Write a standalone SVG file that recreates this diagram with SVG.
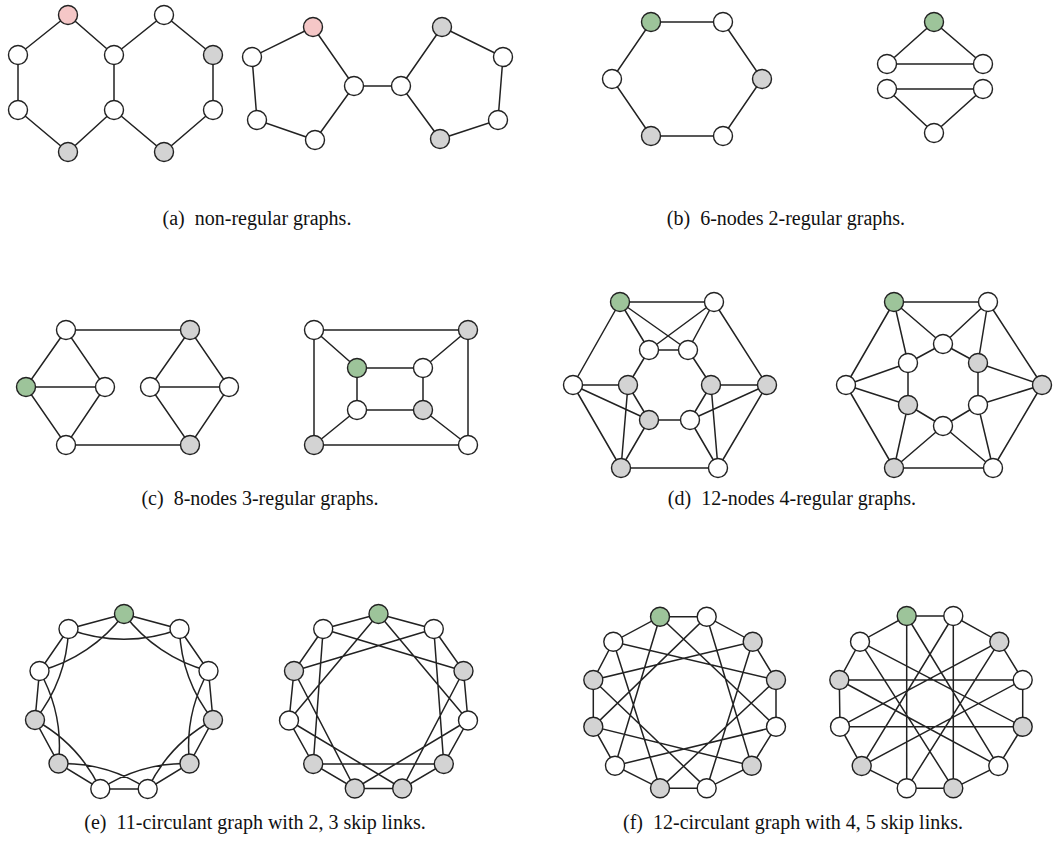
<svg xmlns="http://www.w3.org/2000/svg" width="1054" height="860" viewBox="0 0 1054 860">
<style>
.e{stroke:#222;stroke-width:1.5;fill:none}
circle{stroke:#222;stroke-width:1.4}
.w{fill:#fff}.g{fill:#d3d3d3}.gr{fill:#9dc49a}.p{fill:#f5c7c7}
text{font-family:"Liberation Serif","Times New Roman",serif;font-size:20px;fill:#111;text-anchor:middle}
</style>
<rect width="1054" height="860" fill="#fff"/>
<g id="connectors" class="e">
<!-- a1 -->
<path d="M68,15L18,55L18,110L68,152L114,110L114,55Z M114,55L164,15L213,55L213,110L164,152L114,110"/>
<!-- a2 -->
<path d="M313,27L252,57L257,120L315,140L354,86Z M354,86L401,86 M401,86L442,27L503,57L498,120L440,139Z"/>
<!-- b1 -->
<path d="M651,22L723,22L762,79L723,136L651,136L612,79Z"/>
<!-- b2 -->
<path d="M887,64L934,22L983,64Z M887,89L983,89L934,133Z"/>
<!-- c1 -->
<path d="M66,330L190,330 M66,330L26,387L66,445L105,387Z M26,387L105,387 M66,445L190,445 M190,330L150,387L190,445L229,387Z M150,387L229,387"/>
<!-- c2 -->
<path d="M314,330L468,330L468,445L314,445Z M314,330L357,368 M468,330L423,368 M314,445L357,410 M468,445L423,410 M357,368L423,368L423,410L357,410Z"/>
<!-- d1 -->
<path d="M620,302L714,302 M620,302L573,385 M620,302L649,350 M620,302L688,350 M714,302L649,350 M714,302L688,350 M714,302L767,385 M649,350L688,350 M649,350L628,385 M688,350L711,385 M573,385L628,385 M573,385L649,420 M573,385L621,468 M628,385L649,420 M628,385L621,468 M649,420L621,468 M649,420L690,420 M690,420L711,385 M690,420L767,385 M690,420L718,468 M711,385L718,468 M711,385L767,385 M767,385L718,468 M621,468L718,468"/>
<!-- d2 -->
<path d="M894,302L988,302 M894,302L846,385 M894,302L908,363 M894,302L943,344 M988,302L943,344 M988,302L978,363 M988,302L1042,385 M943,344L908,363 M943,344L978,363 M846,385L908,363 M846,385L908,405 M846,385L894,468 M908,363L908,405 M978,363L978,405 M978,363L1042,385 M978,405L1042,385 M908,405L943,426 M908,405L894,468 M943,426L978,405 M943,426L894,468 M943,426L993,468 M978,405L993,468 M1042,385L993,468 M894,468L993,468"/>
<!-- e1 ring -->
<path d="M124,614L179.5,629L208.5,671L213,720L189.5,763.5L147.7,789L100.3,789L58.5,763.5L35,720L39.5,671L68.5,629Z"/>
<!-- e1 skip 2 -->
<path d="M124,614A155,155 0 0 0 208.5,671 M179.5,629A155,155 0 0 0 213,720 M208.5,671A155,155 0 0 0 189.5,763.5 M213,720A155,155 0 0 0 147.7,789 M189.5,763.5A155,155 0 0 0 100.3,789 M147.7,789A155,155 0 0 0 58.5,763.5 M100.3,789A155,155 0 0 0 35,720 M58.5,763.5A155,155 0 0 0 39.5,671 M35,720A155,155 0 0 0 68.5,629 M39.5,671A155,155 0 0 0 124,614 M68.5,629A155,155 0 0 0 179.5,629"/>
<!-- e2 ring -->
<path d="M378.5,614L433.8,629L463.5,671L468,720.5L443.8,764L402.2,788.5L354.8,788.5L313.2,764L289,720.5L294,671L323.2,629Z"/>
<!-- e2 skip 3 -->
<path d="M378.5,614L468,720.5 M433.8,629L443.8,764 M463.5,671L402.2,788.5 M468,720.5L354.8,788.5 M443.8,764L313.2,764 M402.2,788.5L289,720.5 M354.8,788.5L294,671 M313.2,764L323.2,629 M289,720.5L378.5,614 M294,671L433.8,629 M323.2,629L463.5,671"/>
<!-- f1 ring -->
<path d="M660,616.7L706.7,616.7L752.7,641.7L776,680L776,726.7L751.7,765.7L706.7,788.3L660,788.3L615,765.7L593.3,726.7L593.3,680L613.3,641.7Z"/>
<!-- f1 skip 4 -->
<path d="M660,616.7L776,726.7L615,765.7Z M706.7,616.7L751.7,765.7L593.3,726.7Z M752.7,641.7L706.7,788.3L593.3,680Z M776,680L660,788.3L613.3,641.7Z"/>
<!-- f2 ring -->
<path d="M906.7,616L953.3,616L999.3,641.7L1022.7,680L1022.7,726.7L998.3,766L953.3,788.3L906.7,788.3L861.7,766L840,726.7L839.3,680L860,641.7Z"/>
<!-- f2 skip 5 -->
<path d="M906.7,616L998.3,766 M953.3,616L953.3,788.3 M999.3,641.7L906.7,788.3 M1022.7,680L861.7,766 M1022.7,726.7L840,726.7 M998.3,766L839.3,680 M953.3,788.3L860,641.7 M906.7,788.3L906.7,616 M861.7,766L953.3,616 M840,726.7L999.3,641.7 M839.3,680L1022.7,680 M860,641.7L1022.7,726.7"/>
</g>
<!-- panel a -->
<g id="a1-n0"><circle cx="68" cy="15" r="9.5" class="p"/></g>
<g id="a1-n1"><circle cx="18" cy="55" r="9.5" class="w"/></g>
<g id="a1-n2"><circle cx="18" cy="110" r="9.5" class="w"/></g>
<g id="a1-n3"><circle cx="68" cy="152" r="9.5" class="g"/></g>
<g id="a1-n4"><circle cx="114" cy="55" r="9.5" class="w"/></g>
<g id="a1-n5"><circle cx="114" cy="110" r="9.5" class="w"/></g>
<g id="a1-n6"><circle cx="164" cy="15" r="9.5" class="w"/></g>
<g id="a1-n7"><circle cx="213" cy="55" r="9.5" class="g"/></g>
<g id="a1-n8"><circle cx="213" cy="110" r="9.5" class="w"/></g>
<g id="a1-n9"><circle cx="164" cy="152" r="9.5" class="g"/></g>
<g id="a2-n0"><circle cx="313" cy="27" r="9.5" class="p"/></g>
<g id="a2-n1"><circle cx="252" cy="57" r="9.5" class="w"/></g>
<g id="a2-n2"><circle cx="257" cy="120" r="9.5" class="w"/></g>
<g id="a2-n3"><circle cx="315" cy="140" r="9.5" class="w"/></g>
<g id="a2-n4"><circle cx="354" cy="86" r="9.5" class="w"/></g>
<g id="a2-n5"><circle cx="401" cy="86" r="9.5" class="w"/></g>
<g id="a2-n6"><circle cx="442" cy="27" r="9.5" class="g"/></g>
<g id="a2-n7"><circle cx="503" cy="57" r="9.5" class="w"/></g>
<g id="a2-n8"><circle cx="498" cy="120" r="9.5" class="w"/></g>
<g id="a2-n9"><circle cx="440" cy="139" r="9.5" class="g"/></g>
<!-- panel b -->
<g id="b1-n0"><circle cx="651" cy="22" r="9.5" class="gr"/></g>
<g id="b1-n1"><circle cx="723" cy="22" r="9.5" class="w"/></g>
<g id="b1-n2"><circle cx="762" cy="79" r="9.5" class="g"/></g>
<g id="b1-n3"><circle cx="723" cy="136" r="9.5" class="w"/></g>
<g id="b1-n4"><circle cx="651" cy="136" r="9.5" class="g"/></g>
<g id="b1-n5"><circle cx="612" cy="79" r="9.5" class="w"/></g>
<g id="b2-n0"><circle cx="934" cy="22" r="9.5" class="gr"/></g>
<g id="b2-n1"><circle cx="887" cy="64" r="9.5" class="w"/></g>
<g id="b2-n2"><circle cx="983" cy="64" r="9.5" class="w"/></g>
<g id="b2-n3"><circle cx="887" cy="89" r="9.5" class="w"/></g>
<g id="b2-n4"><circle cx="983" cy="89" r="9.5" class="w"/></g>
<g id="b2-n5"><circle cx="934" cy="133" r="9.5" class="w"/></g>
<!-- panel c -->
<g id="c1-n0"><circle cx="66" cy="330" r="9.5" class="w"/></g>
<g id="c1-n1"><circle cx="190" cy="330" r="9.5" class="g"/></g>
<g id="c1-n2"><circle cx="26" cy="387" r="9.5" class="gr"/></g>
<g id="c1-n3"><circle cx="105" cy="387" r="9.5" class="w"/></g>
<g id="c1-n4"><circle cx="150" cy="387" r="9.5" class="w"/></g>
<g id="c1-n5"><circle cx="229" cy="387" r="9.5" class="w"/></g>
<g id="c1-n6"><circle cx="66" cy="445" r="9.5" class="w"/></g>
<g id="c1-n7"><circle cx="190" cy="445" r="9.5" class="g"/></g>
<g id="c2-n0"><circle cx="314" cy="330" r="9.5" class="w"/></g>
<g id="c2-n1"><circle cx="468" cy="330" r="9.5" class="g"/></g>
<g id="c2-n2"><circle cx="357" cy="368" r="9.5" class="gr"/></g>
<g id="c2-n3"><circle cx="423" cy="368" r="9.5" class="w"/></g>
<g id="c2-n4"><circle cx="357" cy="410" r="9.5" class="w"/></g>
<g id="c2-n5"><circle cx="423" cy="410" r="9.5" class="g"/></g>
<g id="c2-n6"><circle cx="314" cy="445" r="9.5" class="g"/></g>
<g id="c2-n7"><circle cx="468" cy="445" r="9.5" class="w"/></g>
<!-- panel d -->
<g id="d1-n0"><circle cx="620" cy="302" r="9.5" class="gr"/></g>
<g id="d1-n1"><circle cx="714" cy="302" r="9.5" class="w"/></g>
<g id="d1-n2"><circle cx="649" cy="350" r="9.5" class="w"/></g>
<g id="d1-n3"><circle cx="688" cy="350" r="9.5" class="w"/></g>
<g id="d1-n4"><circle cx="573" cy="385" r="9.5" class="w"/></g>
<g id="d1-n5"><circle cx="628" cy="385" r="9.5" class="g"/></g>
<g id="d1-n6"><circle cx="711" cy="385" r="9.5" class="g"/></g>
<g id="d1-n7"><circle cx="767" cy="385" r="9.5" class="g"/></g>
<g id="d1-n8"><circle cx="649" cy="420" r="9.5" class="g"/></g>
<g id="d1-n9"><circle cx="690" cy="420" r="9.5" class="w"/></g>
<g id="d1-n10"><circle cx="621" cy="468" r="9.5" class="g"/></g>
<g id="d1-n11"><circle cx="718" cy="468" r="9.5" class="w"/></g>
<g id="d2-n0"><circle cx="894" cy="302" r="9.5" class="gr"/></g>
<g id="d2-n1"><circle cx="988" cy="302" r="9.5" class="w"/></g>
<g id="d2-n2"><circle cx="943" cy="344" r="9.5" class="w"/></g>
<g id="d2-n3"><circle cx="908" cy="363" r="9.5" class="w"/></g>
<g id="d2-n4"><circle cx="978" cy="363" r="9.5" class="g"/></g>
<g id="d2-n5"><circle cx="846" cy="385" r="9.5" class="w"/></g>
<g id="d2-n6"><circle cx="1042" cy="385" r="9.5" class="g"/></g>
<g id="d2-n7"><circle cx="908" cy="405" r="9.5" class="g"/></g>
<g id="d2-n8"><circle cx="978" cy="405" r="9.5" class="w"/></g>
<g id="d2-n9"><circle cx="943" cy="426" r="9.5" class="w"/></g>
<g id="d2-n10"><circle cx="894" cy="468" r="9.5" class="g"/></g>
<g id="d2-n11"><circle cx="993" cy="468" r="9.5" class="w"/></g>
<!-- panel e -->
<g id="e1-n0"><circle cx="124" cy="614" r="9.5" class="gr"/></g>
<g id="e1-n1"><circle cx="179.5" cy="629" r="9.5" class="w"/></g>
<g id="e1-n2"><circle cx="208.5" cy="671" r="9.5" class="w"/></g>
<g id="e1-n3"><circle cx="213" cy="720" r="9.5" class="g"/></g>
<g id="e1-n4"><circle cx="189.5" cy="763.5" r="9.5" class="g"/></g>
<g id="e1-n5"><circle cx="147.7" cy="789" r="9.5" class="w"/></g>
<g id="e1-n6"><circle cx="100.3" cy="789" r="9.5" class="w"/></g>
<g id="e1-n7"><circle cx="58.5" cy="763.5" r="9.5" class="g"/></g>
<g id="e1-n8"><circle cx="35" cy="720" r="9.5" class="g"/></g>
<g id="e1-n9"><circle cx="39.5" cy="671" r="9.5" class="w"/></g>
<g id="e1-n10"><circle cx="68.5" cy="629" r="9.5" class="w"/></g>
<g id="e2-n0"><circle cx="378.5" cy="614" r="9.5" class="gr"/></g>
<g id="e2-n1"><circle cx="433.8" cy="629" r="9.5" class="w"/></g>
<g id="e2-n2"><circle cx="463.5" cy="671" r="9.5" class="g"/></g>
<g id="e2-n3"><circle cx="468" cy="720.5" r="9.5" class="w"/></g>
<g id="e2-n4"><circle cx="443.8" cy="764" r="9.5" class="g"/></g>
<g id="e2-n5"><circle cx="402.2" cy="788.5" r="9.5" class="g"/></g>
<g id="e2-n6"><circle cx="354.8" cy="788.5" r="9.5" class="g"/></g>
<g id="e2-n7"><circle cx="313.2" cy="764" r="9.5" class="g"/></g>
<g id="e2-n8"><circle cx="289" cy="720.5" r="9.5" class="w"/></g>
<g id="e2-n9"><circle cx="294" cy="671" r="9.5" class="g"/></g>
<g id="e2-n10"><circle cx="323.2" cy="629" r="9.5" class="w"/></g>
<!-- panel f -->
<g id="f1-n0"><circle cx="660" cy="616.7" r="9.5" class="gr"/></g>
<g id="f1-n1"><circle cx="706.7" cy="616.7" r="9.5" class="w"/></g>
<g id="f1-n2"><circle cx="752.7" cy="641.7" r="9.5" class="g"/></g>
<g id="f1-n3"><circle cx="776" cy="680" r="9.5" class="g"/></g>
<g id="f1-n4"><circle cx="776" cy="726.7" r="9.5" class="w"/></g>
<g id="f1-n5"><circle cx="751.7" cy="765.7" r="9.5" class="g"/></g>
<g id="f1-n6"><circle cx="706.7" cy="788.3" r="9.5" class="w"/></g>
<g id="f1-n7"><circle cx="660" cy="788.3" r="9.5" class="g"/></g>
<g id="f1-n8"><circle cx="615" cy="765.7" r="9.5" class="w"/></g>
<g id="f1-n9"><circle cx="593.3" cy="726.7" r="9.5" class="g"/></g>
<g id="f1-n10"><circle cx="593.3" cy="680" r="9.5" class="g"/></g>
<g id="f1-n11"><circle cx="613.3" cy="641.7" r="9.5" class="w"/></g>
<g id="f2-n0"><circle cx="906.7" cy="616" r="9.5" class="gr"/></g>
<g id="f2-n1"><circle cx="953.3" cy="616" r="9.5" class="w"/></g>
<g id="f2-n2"><circle cx="999.3" cy="641.7" r="9.5" class="g"/></g>
<g id="f2-n3"><circle cx="1022.7" cy="680" r="9.5" class="w"/></g>
<g id="f2-n4"><circle cx="1022.7" cy="726.7" r="9.5" class="g"/></g>
<g id="f2-n5"><circle cx="998.3" cy="766" r="9.5" class="w"/></g>
<g id="f2-n6"><circle cx="953.3" cy="788.3" r="9.5" class="g"/></g>
<g id="f2-n7"><circle cx="906.7" cy="788.3" r="9.5" class="w"/></g>
<g id="f2-n8"><circle cx="861.7" cy="766" r="9.5" class="g"/></g>
<g id="f2-n9"><circle cx="840" cy="726.7" r="9.5" class="w"/></g>
<g id="f2-n10"><circle cx="839.3" cy="680" r="9.5" class="g"/></g>
<g id="f2-n11"><circle cx="860" cy="641.7" r="9.5" class="w"/></g>
<!-- captions -->
<g id="captions">
<text x="257" y="225">(a)<tspan dx="10">non-regular graphs.</tspan></text>
<text x="786" y="225">(b)<tspan dx="10">6-nodes 2-regular graphs.</tspan></text>
<text x="260" y="505">(c)<tspan dx="10">8-nodes 3-regular graphs.</tspan></text>
<text x="792" y="505">(d)<tspan dx="10">12-nodes 4-regular graphs.</tspan></text>
<text x="255" y="829">(e)<tspan dx="10">11-circulant graph with 2, 3 skip links.</tspan></text>
<text x="793" y="829">(f)<tspan dx="10">12-circulant graph with 4, 5 skip links.</tspan></text>
</g>
</svg>
